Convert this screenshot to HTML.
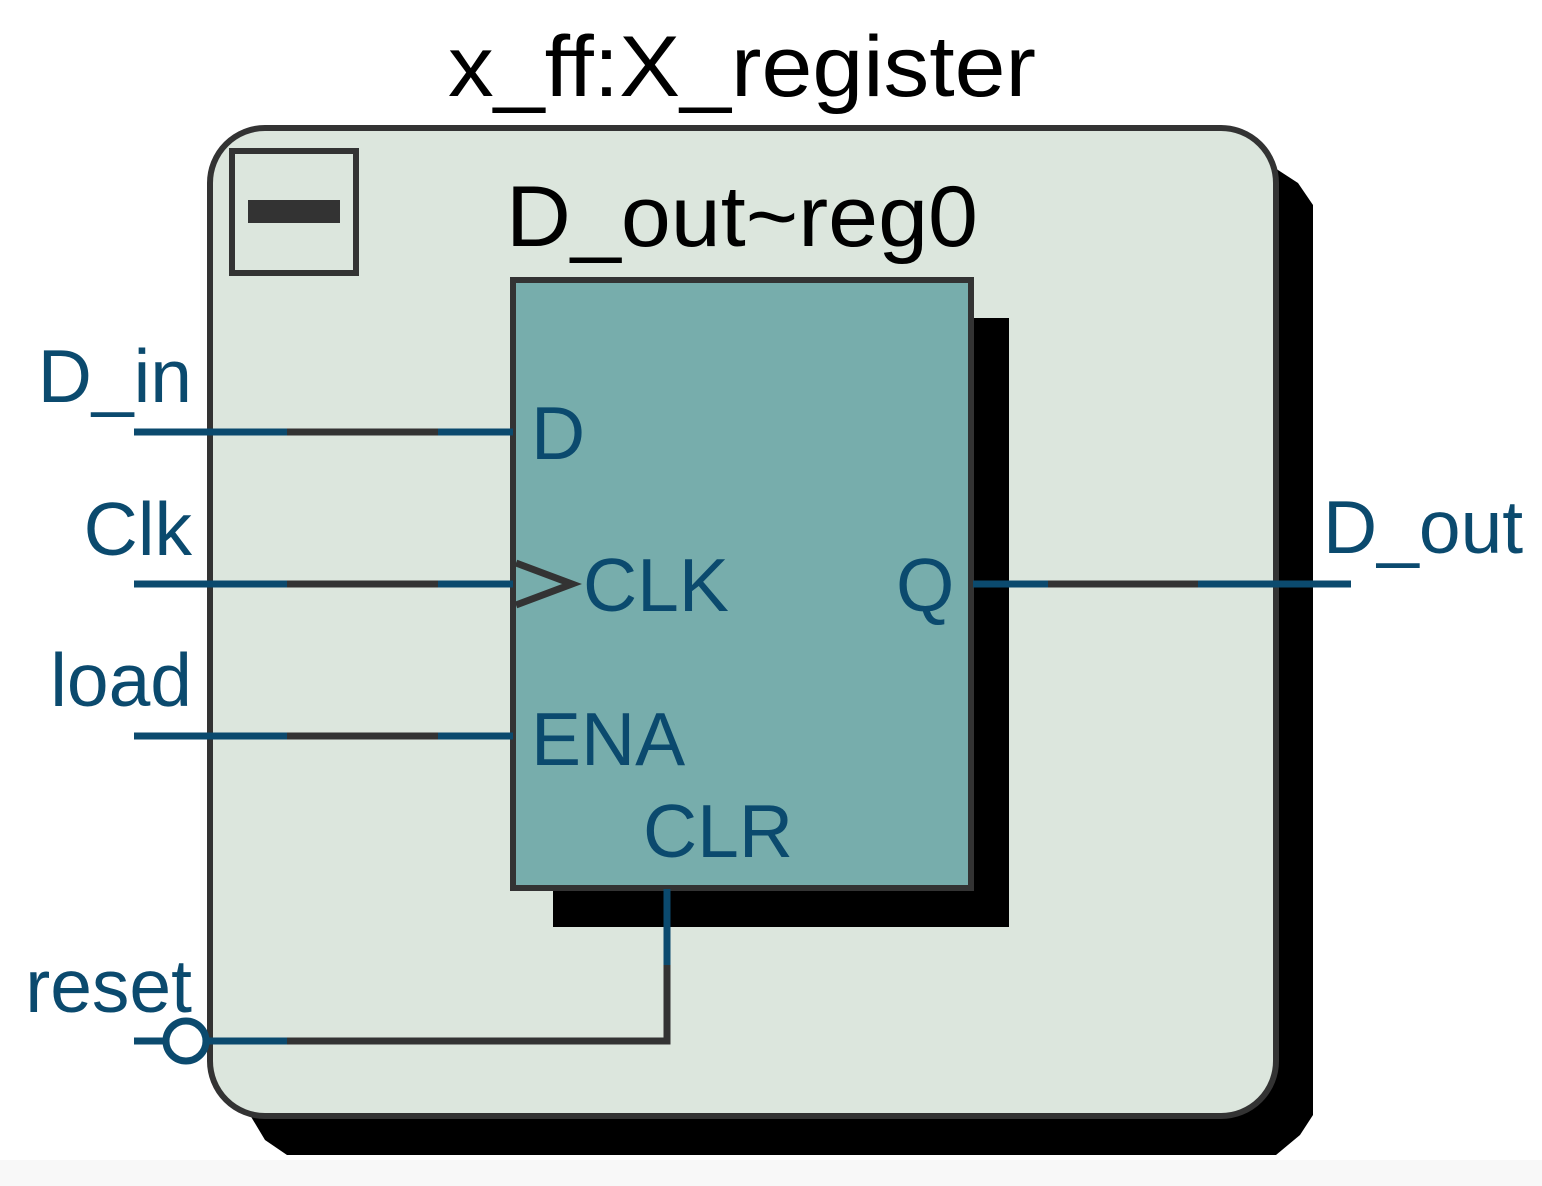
<!DOCTYPE html>
<html><head><style>html,body{margin:0;padding:0;background:#fff;}svg{display:block}</style></head>
<body>
<svg width="1542" height="1186" viewBox="0 0 1542 1186" xmlns="http://www.w3.org/2000/svg" font-family="Liberation Sans, Arial, sans-serif">
<rect x="0" y="1160" width="1542" height="26" fill="#f8f8f8"/>
<!-- outer shadow -->
<polygon points="1240,140 1278,170 1298,183 1313,205 1313,1115 1300,1135 1276,1155 287,1155 265,1140 250,1115 240,1080 1240,1080" fill="#000"/>
<!-- outer box -->
<rect x="210" y="128" width="1066" height="988" rx="55" ry="55" fill="#dce6dd" stroke="#333" stroke-width="6"/>
<!-- minus box -->
<rect x="232" y="151" width="124" height="122" fill="none" stroke="#333" stroke-width="6"/>
<rect x="248" y="200" width="92" height="23" fill="#333"/>
<!-- inner shadow -->
<rect x="553" y="318" width="456" height="609" fill="#000"/>
<!-- inner box -->
<rect x="513" y="280" width="458" height="608" fill="#77adac" stroke="#333" stroke-width="6"/>
<!-- titles -->
<text x="448" y="96" font-size="86" textLength="588" lengthAdjust="spacingAndGlyphs" fill="#000">x_ff:X_register</text>
<text x="506" y="246" font-size="86" textLength="472" lengthAdjust="spacingAndGlyphs" fill="#000">D_out~reg0</text>
<!-- wires -->
<g stroke-width="7" fill="none">
<line x1="134" y1="432" x2="287" y2="432" stroke="#0b4a6e"/><line x1="287" y1="432" x2="438" y2="432" stroke="#333"/><line x1="438" y1="432" x2="513" y2="432" stroke="#0b4a6e"/>
<line x1="134" y1="584" x2="287" y2="584" stroke="#0b4a6e"/><line x1="287" y1="584" x2="438" y2="584" stroke="#333"/><line x1="438" y1="584" x2="513" y2="584" stroke="#0b4a6e"/>
<line x1="134" y1="736" x2="287" y2="736" stroke="#0b4a6e"/><line x1="287" y1="736" x2="438" y2="736" stroke="#333"/><line x1="438" y1="736" x2="513" y2="736" stroke="#0b4a6e"/>
<line x1="973" y1="584" x2="1048" y2="584" stroke="#0b4a6e"/><line x1="1048" y1="584" x2="1198" y2="584" stroke="#333"/><line x1="1198" y1="584" x2="1351" y2="584" stroke="#0b4a6e"/>
<line x1="134" y1="1041" x2="166" y2="1041" stroke="#0b4a6e"/>
<line x1="206" y1="1041" x2="287" y2="1041" stroke="#0b4a6e"/>
<polyline points="287,1041 667,1041 667,965" stroke="#333"/>
<line x1="667" y1="965" x2="667" y2="889" stroke="#0b4a6e"/>
<circle cx="186" cy="1041" r="20" stroke="#0b4a6e" fill="#fff"/>
</g>
<polyline points="516,563 572,584 516,605" fill="none" stroke="#333" stroke-width="7"/>
<!-- labels -->
<g fill="#0b4a6e" font-size="75">
<text x="192" y="402" text-anchor="end">D_in</text>
<text x="192" y="555" text-anchor="end">Clk</text>
<text x="192" y="706" text-anchor="end">load</text>
<text x="192" y="1012" text-anchor="end">reset</text>
<text x="1323" y="553">D_out</text>
<text x="531" y="459">D</text>
<text x="583" y="611">CLK</text>
<text x="896" y="611">Q</text>
<text x="531" y="765">ENA</text>
<text x="643" y="857">CLR</text>
</g>
</svg>
</body></html>
